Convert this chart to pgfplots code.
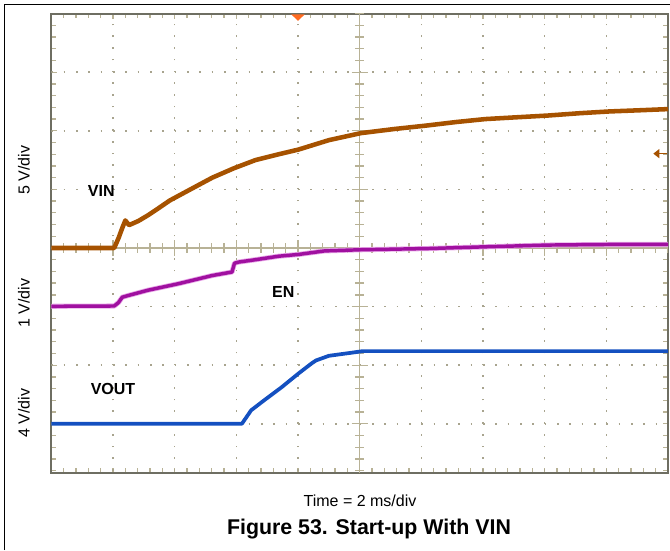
\documentclass[border=0pt]{standalone}
\usepackage{pgfplots}
\pgfplotsset{compat=1.18}
\usepackage{fontspec}
\setmainfont{Liberation Sans}
\definecolor{vin}{HTML}{A65200}
\definecolor{en}{HTML}{A010A0}
\definecolor{enhalo}{HTML}{E8A8E8}
\definecolor{vout}{HTML}{1450C0}
\definecolor{bordc}{HTML}{6E6E62}
\definecolor{tickc}{HTML}{B8B296}
\definecolor{gridc}{HTML}{A8A48E}
\definecolor{trig}{HTML}{FF6A20}
\begin{document}
\begin{tikzpicture}
\useasboundingbox (0,0) rectangle (502.5pt,-412.5pt);
\draw[black, line width=0.9pt] (3.4pt,-412.5pt) -- (3.4pt,-3.4pt) -- (502.5pt,-3.4pt);
\begin{axis}[
  anchor=south west, at={(38.5pt,-354.75pt)},
  x=46.25pt, y=43.95pt,
  xmin=-5, xmax=5, ymin=-3.84, ymax=4,
  axis line style={bordc, line width=1.5pt},
  xtick={-5,...,5}, ytick={-4,...,4},
  minor x tick num=4, minor y tick num=4,
  xticklabels={}, yticklabels={},
  tick align=inside, major tick length=4pt, minor tick length=3.5pt,
  tick style={tickc, line width=1pt},
]
% dotted grid
\pgfplotsinvokeforeach{-4,-3,-2,-1,1,2,3,4}{
  \draw[gridc, line width=1.2pt, dash pattern=on 1.2pt off 7.59pt] (axis cs:#1,-3.8) -- (axis cs:#1,4);
}
\pgfplotsinvokeforeach{-3,-2,-1,1,2,3}{
  \draw[gridc, line width=1.2pt, dash pattern=on 1.2pt off 8.05pt] (axis cs:-5,#1) -- (axis cs:5,#1);
}
% centre lines
\draw[tickc, line width=1.1pt] (axis cs:0,-3.84) -- (axis cs:0,4);
\draw[tickc, line width=1.1pt] (axis cs:-5,0) -- (axis cs:5,0);
\pgfplotsinvokeforeach{-3.8,-3.6,...,3.9}{
  \draw[tickc, line width=1pt] ([xshift=-3.4pt]axis cs:0,#1) -- ([xshift=3.4pt]axis cs:0,#1);
}
\pgfplotsinvokeforeach{-3,...,3}{
  \draw[tickc, line width=1pt] ([xshift=-6pt]axis cs:0,#1) -- ([xshift=6pt]axis cs:0,#1);
}
\pgfplotsinvokeforeach{-4.8,-4.6,...,4.9}{
  \draw[tickc, line width=1pt] ([yshift=-3.4pt]axis cs:#1,0) -- ([yshift=3.4pt]axis cs:#1,0);
}
\pgfplotsinvokeforeach{-4,...,4}{
  \draw[tickc, line width=1pt] ([yshift=-6pt]axis cs:#1,0) -- ([yshift=6pt]axis cs:#1,0);
}
% VIN
\addplot[vin, line width=3.4pt, line join=round] coordinates {
(-5,0) (-3.98,0) (-3.91,0.17) (-3.85,0.34) (-3.80,0.47) (-3.74,0.39) (-3.59,0.46)
(-3.43,0.56) (-3.26,0.68) (-3.08,0.81) (-2.78,0.98) (-2.39,1.20) (-2.04,1.36)
(-1.69,1.50) (-1.31,1.60) (-0.99,1.68) (-0.50,1.84) (0.02,1.96) (0.56,2.03)
(1.09,2.09) (1.57,2.15) (2.04,2.20) (2.54,2.23) (3.05,2.26) (3.57,2.30)
(4.05,2.33) (4.54,2.35) (5,2.37)};
% EN
\addplot[enhalo, line width=3.8pt, line join=round] coordinates {
(-5,-0.995) (-3.98,-0.99) (-3.91,-0.93) (-3.85,-0.84) (-3.75,-0.81) (-3.43,-0.72)
(-2.94,-0.61) (-2.39,-0.47) (-2.07,-0.41) (-2.03,-0.26) (-1.96,-0.24) (-1.69,-0.20)
(-1.31,-0.14) (-0.99,-0.11) (-0.57,-0.05) (0.02,-0.03) (1.09,-0.01) (2.04,0.02)
(3.05,0.05) (4.05,0.06) (5,0.06)};
\addplot[en, line width=2.6pt, line join=round] coordinates {
(-5,-0.995) (-3.98,-0.99) (-3.91,-0.93) (-3.85,-0.84) (-3.75,-0.81) (-3.43,-0.72)
(-2.94,-0.61) (-2.39,-0.47) (-2.07,-0.41) (-2.03,-0.26) (-1.96,-0.24) (-1.69,-0.20)
(-1.31,-0.14) (-0.99,-0.11) (-0.57,-0.05) (0.02,-0.03) (1.09,-0.01) (2.04,0.02)
(3.05,0.05) (4.05,0.06) (5,0.06)};
% VOUT
\addplot[vout, line width=2.8pt, line join=round] coordinates {
(-5,-3.0) (-1.91,-3.0) (-1.76,-2.77) (-1.55,-2.60) (-1.27,-2.38) (-0.99,-2.14)
(-0.78,-1.97) (-0.71,-1.92) (-0.50,-1.84) (-0.29,-1.81) (-0.15,-1.79) (0.05,-1.76)
(5,-1.76)};
% markers
\fill[trig] ([xshift=-5pt,yshift=-0.6pt]axis cs:-1,4) -- ([xshift=5pt,yshift=-0.6pt]axis cs:-1,4) -- ([yshift=-5.5pt]axis cs:-1,4) -- cycle;
\draw[vin, line width=1pt] ([xshift=-1pt]axis cs:5,1.61) -- ([xshift=-8pt]axis cs:5,1.61);
\fill[vin] ([xshift=-11pt]axis cs:5,1.61) -- ([xshift=-6.5pt,yshift=3.5pt]axis cs:5,1.61) -- ([xshift=-6.5pt,yshift=-3.5pt]axis cs:5,1.61) -- cycle;
% labels
\node[font=\fontsize{12}{14}\selectfont\bfseries] at (axis cs:-4.19,0.97) {VIN};
\node[font=\fontsize{12}{14}\selectfont\bfseries] at (axis cs:-1.24,-0.75) {EN};
\node[font=\fontsize{12}{14}\selectfont\bfseries] at (axis cs:-4.0,-2.41) {VOUT};
\end{axis}
\node[rotate=90, font=\fontsize{12}{14}\selectfont] at (18pt,-127.5pt) {5 V/div};
\node[rotate=90, font=\fontsize{12}{14}\selectfont] at (18pt,-227.25pt) {1 V/div};
\node[rotate=90, font=\fontsize{12}{14}\selectfont] at (18pt,-309.75pt) {4 V/div};
\node[font=\fontsize{12}{14}\selectfont] at (270pt,-375.75pt) {Time = 2 ms/div};
\node[font=\fontsize{16}{19}\selectfont\bfseries] at (276.75pt,-396.75pt) {Figure 53. Start-up With VIN};
\end{tikzpicture}
\end{document}
